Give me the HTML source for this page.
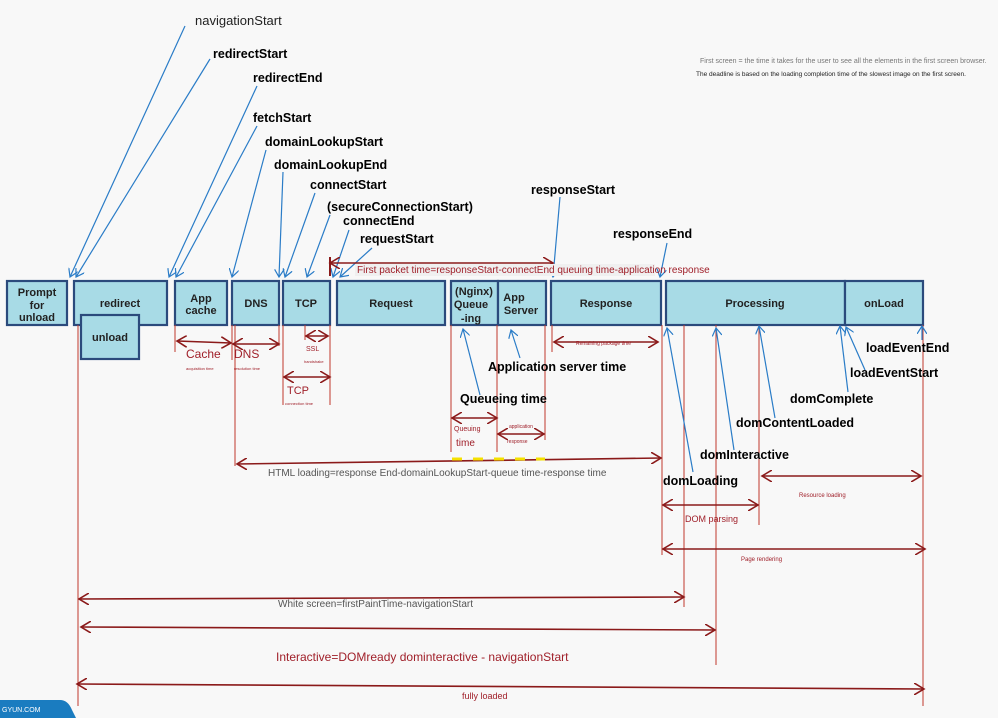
<!DOCTYPE html>
<html><head><meta charset="utf-8"><style>
html,body{margin:0;padding:0;background:#f8f8f8;}
svg{display:block;font-family:"Liberation Sans",sans-serif;}
.b{font-weight:bold;font-size:12.5px;fill:#000;}
.bx{fill:#a8dbe6;stroke:#2b4a7c;stroke-width:2.2;}
.bt{font-weight:bold;font-size:11px;fill:#222;text-anchor:middle;}
.bl{stroke:#2a7cc7;stroke-width:1.2;fill:none;}
.r{stroke:#c0392b;stroke-width:1;fill:none;}
.ra{stroke:#8b1a1a;stroke-width:1.6;fill:none;}
.rt{fill:#a0202a;font-size:10px;}
</style></head><body>
<svg width="998" height="718" viewBox="0 0 998 718" xmlns="http://www.w3.org/2000/svg">
<defs>
<marker id="ba" markerWidth="10" markerHeight="10" refX="8" refY="5" orient="auto" markerUnits="userSpaceOnUse"><path d="M0,0 L8,5 L0,10" fill="none" stroke="#2a7cc7" stroke-width="1.2"/></marker>
<marker id="ra" markerWidth="12" markerHeight="12" refX="10" refY="6" orient="auto-start-reverse" markerUnits="userSpaceOnUse"><path d="M0,0 L10,6 L0,12" fill="none" stroke="#8b1a1a" stroke-width="1.6"/></marker>
</defs>

<text x="195" y="25" font-size="13" fill="#222">navigationStart</text>
<text class="b" x="213" y="58">redirectStart</text>
<text class="b" x="253" y="82">redirectEnd</text>
<text class="b" x="253" y="122">fetchStart</text>
<text class="b" x="265" y="146">domainLookupStart</text>
<text class="b" x="274" y="169">domainLookupEnd</text>
<text class="b" x="310" y="189">connectStart</text>
<text class="b" x="327" y="211">(secureConnectionStart)</text>
<text class="b" x="343" y="225">connectEnd</text>
<text class="b" x="360" y="243">requestStart</text>
<text class="b" x="531" y="194">responseStart</text>
<text class="b" x="613" y="238">responseEnd</text>

<text x="700" y="63" font-size="7" fill="#777">First screen = the time it takes for the user to see all the elements in the first screen browser.</text>
<text x="696" y="76" font-size="6.5" fill="#222">The deadline is based on the loading completion time of the slowest image on the first screen.</text>

<g class="bl">
<line x1="185" y1="26" x2="70" y2="277" marker-end="url(#ba)"/>
<line x1="210" y1="59" x2="76" y2="277" marker-end="url(#ba)"/>
<line x1="257" y1="86" x2="169" y2="277" marker-end="url(#ba)"/>
<line x1="257" y1="126" x2="176" y2="277" marker-end="url(#ba)"/>
<line x1="266" y1="150" x2="232" y2="277" marker-end="url(#ba)"/>
<line x1="283" y1="172" x2="279" y2="277" marker-end="url(#ba)"/>
<line x1="315" y1="193" x2="285" y2="277" marker-end="url(#ba)"/>
<line x1="330" y1="215" x2="307" y2="277" marker-end="url(#ba)"/>
<line x1="349" y1="230" x2="333" y2="277" marker-end="url(#ba)"/>
<line x1="372" y1="248" x2="340" y2="277" marker-end="url(#ba)"/>
<line x1="560" y1="197" x2="553" y2="277" marker-end="url(#ba)"/>
<line x1="667" y1="243" x2="660" y2="277" marker-end="url(#ba)"/>
</g>

<line class="ra" x1="330" y1="263" x2="553" y2="263" marker-start="url(#ra)" marker-end="url(#ra)"/>
<line x1="330" y1="257" x2="330" y2="276" stroke="#8b1a1a" stroke-width="2"/>
<rect x="355" y="264" width="300" height="12" fill="#f0f0f0"/>
<text class="rt" x="357" y="273" font-size="9">First packet time=responseStart-connectEnd queuing time-application response</text>

<rect class="bx" x="7" y="281" width="60" height="44"/>
<text class="bt" x="37" y="296">Prompt</text><text class="bt" x="37" y="309">for</text><text class="bt" x="37" y="321">unload</text>
<rect class="bx" x="74" y="281" width="93" height="44"/>
<text class="bt" x="120" y="307">redirect</text>
<rect class="bx" x="81" y="315" width="58" height="44"/>
<text class="bt" x="110" y="341">unload</text>
<rect class="bx" x="175" y="281" width="52" height="44"/>
<text class="bt" x="201" y="302">App</text><text class="bt" x="201" y="314">cache</text>
<rect class="bx" x="232" y="281" width="47" height="44"/>
<text class="bt" x="256" y="307">DNS</text>
<rect class="bx" x="283" y="281" width="47" height="44"/>
<text class="bt" x="306" y="307">TCP</text>
<rect class="bx" x="337" y="281" width="108" height="44"/>
<text class="bt" x="391" y="307">Request</text>
<rect class="bx" x="451" y="281" width="47" height="44"/>
<text class="bt" x="474" y="295" font-size="10">(Nginx)</text><text class="bt" x="471" y="308" font-size="10">Queue</text><text class="bt" x="471" y="322" font-size="10">-ing</text>
<rect class="bx" x="498" y="281" width="48" height="44"/>
<text class="bt" x="514" y="301" font-size="10">App</text><text class="bt" x="521" y="314" font-size="10">Server</text>
<rect class="bx" x="551" y="281" width="110" height="44"/>
<text class="bt" x="606" y="307">Response</text>
<rect class="bx" x="666" y="281" width="179" height="44"/>
<text class="bt" x="755" y="307">Processing</text>
<rect class="bx" x="845" y="281" width="78" height="44"/>
<text class="bt" x="884" y="307">onLoad</text>

<g class="r">
<line x1="78" y1="325" x2="78" y2="706"/>
<line x1="175" y1="325" x2="175" y2="352"/>
<line x1="232" y1="325" x2="232" y2="360"/>
<line x1="235" y1="325" x2="235" y2="466"/>
<line x1="279" y1="325" x2="279" y2="346"/>
<line x1="283" y1="325" x2="283" y2="405"/>
<line x1="330" y1="325" x2="330" y2="405"/>
<line x1="305" y1="325" x2="305" y2="340"/>
<line x1="451" y1="325" x2="451" y2="452"/>
<line x1="497" y1="325" x2="497" y2="452"/>
<line x1="545" y1="325" x2="545" y2="440"/>
<line x1="552" y1="325" x2="552" y2="352"/>
<line x1="662" y1="325" x2="662" y2="555"/>
<line x1="684" y1="325" x2="684" y2="607"/>
<line x1="716" y1="325" x2="716" y2="665"/>
<line x1="759" y1="325" x2="759" y2="525"/>
<line x1="923" y1="325" x2="923" y2="706"/>
</g>

<g class="ra">
<line x1="177" y1="341" x2="231" y2="343" marker-start="url(#ra)" marker-end="url(#ra)"/>
<line x1="233" y1="344" x2="279" y2="344" marker-start="url(#ra)" marker-end="url(#ra)"/>
<line x1="306" y1="336" x2="328" y2="336" marker-start="url(#ra)" marker-end="url(#ra)"/>
<line x1="284" y1="377" x2="330" y2="377" marker-start="url(#ra)" marker-end="url(#ra)"/>
<line x1="452" y1="418" x2="497" y2="418" marker-start="url(#ra)" marker-end="url(#ra)"/>
<line x1="498" y1="434" x2="544" y2="434" marker-start="url(#ra)" marker-end="url(#ra)"/>
<line x1="554" y1="342" x2="658" y2="342" marker-start="url(#ra)" marker-end="url(#ra)"/>
<line x1="237" y1="464" x2="661" y2="458" marker-start="url(#ra)" marker-end="url(#ra)"/>
<line x1="762" y1="476" x2="921" y2="476" marker-start="url(#ra)" marker-end="url(#ra)"/>
<line x1="663" y1="505" x2="758" y2="505" marker-start="url(#ra)" marker-end="url(#ra)"/>
<line x1="663" y1="549" x2="925" y2="549" marker-start="url(#ra)" marker-end="url(#ra)"/>
<line x1="79" y1="599" x2="684" y2="597" marker-start="url(#ra)" marker-end="url(#ra)"/>
<line x1="81" y1="627" x2="715" y2="630" marker-start="url(#ra)" marker-end="url(#ra)"/>
<line x1="77" y1="684" x2="924" y2="689" marker-start="url(#ra)" marker-end="url(#ra)"/>
</g>
<g stroke="#f5e000" stroke-width="3">
<line x1="452" y1="459" x2="462" y2="459"/><line x1="473" y1="459" x2="483" y2="459"/><line x1="494" y1="459" x2="504" y2="459"/><line x1="515" y1="459" x2="525" y2="459"/><line x1="536" y1="459" x2="545" y2="459"/>
</g>

<text x="186" y="358" font-size="12" fill="#a0202a">Cache</text>
<text x="186" y="370" font-size="4" fill="#a0202a">acquisition time</text>
<text x="234" y="358" font-size="12" fill="#a0202a">DNS</text>
<text x="234" y="370" font-size="4" fill="#a0202a">resolution time</text>
<text x="306" y="351" font-size="7" fill="#a0202a">SSL</text>
<text x="304" y="363" font-size="4" fill="#a0202a">handshake</text>
<text x="287" y="394" font-size="11" fill="#a0202a">TCP</text>
<text x="285" y="405" font-size="4" fill="#a0202a">connection time</text>
<text x="454" y="431" font-size="7" fill="#a0202a">Queuing</text>
<text x="456" y="446" font-size="10" fill="#a0202a">time</text>
<text x="509" y="428" font-size="5" fill="#a0202a">application</text>
<text x="507" y="443" font-size="5" fill="#a0202a">response</text>
<text x="576" y="345" font-size="5" fill="#a0202a">Remaining package time</text>
<text x="268" y="476" font-size="10" fill="#555">HTML loading=response End-domainLookupStart-queue time-response time</text>
<text x="799" y="497" font-size="6" fill="#a0202a">Resource loading</text>
<text x="685" y="522" font-size="9" fill="#a0202a">DOM parsing</text>
<text x="741" y="561" font-size="6" fill="#a0202a">Page rendering</text>
<text x="278" y="607" font-size="10" fill="#555">White screen=firstPaintTime-navigationStart</text>
<text x="276" y="661" font-size="12" fill="#a0202a">Interactive=DOMready dominteractive - navigationStart</text>
<text x="462" y="699" font-size="9" fill="#a0202a">fully loaded</text>

<text class="b" x="488" y="371">Application server time</text>
<text class="b" x="460" y="403">Queueing time</text>
<text class="b" x="866" y="352">loadEventEnd</text>
<text class="b" x="850" y="377">loadEventStart</text>
<text class="b" x="790" y="403">domComplete</text>
<text class="b" x="736" y="427">domContentLoaded</text>
<text class="b" x="700" y="459">domInteractive</text>
<text class="b" x="663" y="485">domLoading</text>

<g class="bl">
<line x1="480" y1="395" x2="463" y2="329" marker-end="url(#ba)"/>
<line x1="520" y1="358" x2="511" y2="330" marker-end="url(#ba)"/>
<line x1="693" y1="472" x2="667" y2="328" marker-end="url(#ba)"/>
<line x1="734" y1="450" x2="716" y2="328" marker-end="url(#ba)"/>
<line x1="775" y1="418" x2="759" y2="326" marker-end="url(#ba)"/>
<line x1="848" y1="392" x2="840" y2="326" marker-end="url(#ba)"/>
<line x1="865" y1="370" x2="846" y2="327" marker-end="url(#ba)"/>
<line x1="922" y1="340" x2="922" y2="326" marker-end="url(#ba)"/>
</g>

<path d="M0,700 L60,700 Q68,700 72,710 L76,718 L0,718 Z" fill="#1a7cc0"/>
<text x="2" y="712" font-size="7" fill="#fff">GYUN.COM</text>
</svg>
</body></html>
